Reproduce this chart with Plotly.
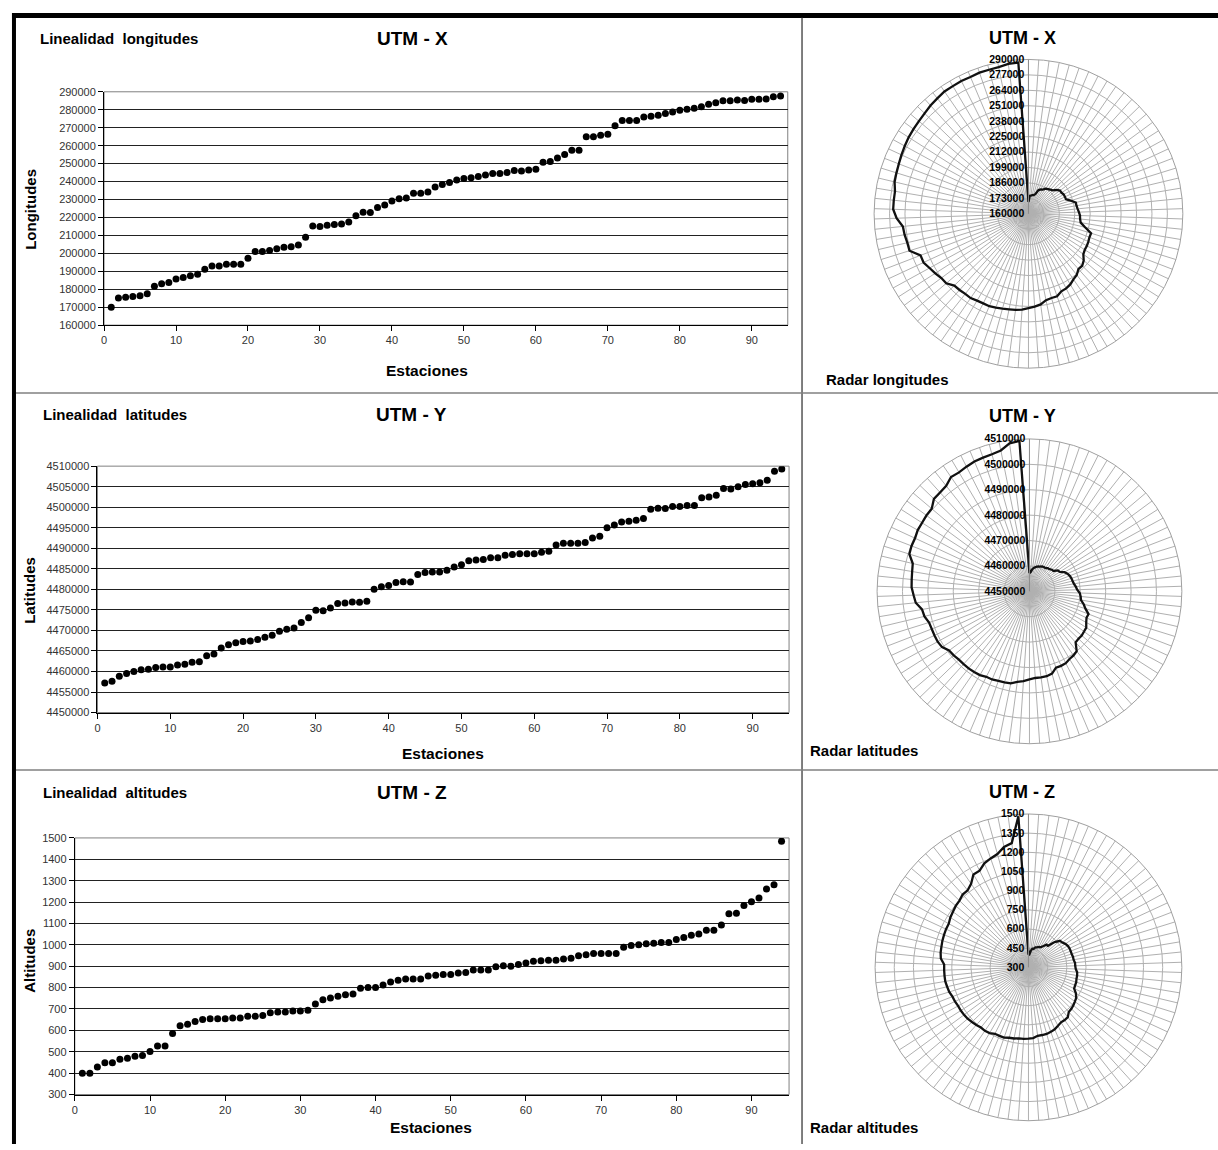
import plotly.graph_objects as go

# ---------------- data ----------------
stations = list(range(1, 95))
station_labels = [str(s) for s in stations]

longitudes = [170000, 175100, 175500, 176000, 176400, 177500, 181700, 183000, 183700, 185700,
              186600, 187500, 188400, 191100, 193000, 193000, 193900, 193900, 193900, 197200,
              201000, 201000, 201600, 202500, 203400, 203700, 204600, 209000, 215200, 215000,
              215600, 216100, 216300, 217400, 220900, 222900, 222700, 225600, 226900, 229100,
              230400, 230900, 233500, 233500, 234200, 237000, 238300, 239400, 240800, 241700,
              242100, 242800, 243700, 244500, 244500, 245000, 246100, 245900, 246500, 246900,
              250700, 251100, 253100, 255000, 257400, 257400, 264900, 264900, 265800, 266300,
              271100, 274000, 274000, 274000, 275900, 276400, 277000, 277900, 278800, 279700,
              280300, 280800, 281700, 283000, 283900, 285000, 285000, 285400, 285200, 285800,
              285800, 286000, 287300, 287700]

latitudes = [4457170, 4457650, 4458860, 4459500, 4460000, 4460400, 4460560, 4460960, 4461100, 4461100,
             4461600, 4461770, 4462250, 4462400, 4463860, 4464250, 4465700, 4466500, 4467000, 4467300,
             4467450, 4467770, 4468330, 4468800, 4469800, 4470260, 4470580, 4471950, 4473070, 4474920,
             4474760, 4475480, 4476530, 4476690, 4476930, 4476850, 4477100, 4480000, 4480640, 4480960,
             4481690, 4481870, 4481800, 4483600, 4484100, 4484200, 4484200, 4484640, 4485450, 4486000,
             4486970, 4487130, 4487290, 4487690, 4487690, 4488330, 4488490, 4488650, 4488650, 4488650,
             4489060, 4489300, 4490820, 4491220, 4491220, 4491220, 4491390, 4492500, 4492900, 4495000,
             4495640, 4496430, 4496600, 4496840, 4497240, 4499500, 4499760, 4499680, 4500160, 4500160,
             4500400, 4500400, 4502330, 4502490, 4502890, 4504580, 4504420, 4504980, 4505540, 4505700,
             4505940, 4506590, 4508760, 4509320]

altitudes = [400, 400, 429, 449, 449, 465, 470, 479, 482, 501,
             527, 527, 585, 622, 629, 642, 651, 654, 654, 654,
             658, 658, 666, 666, 670, 683, 686, 686, 691, 691,
             694, 723, 743, 751, 760, 767, 770, 797, 800, 800,
             812, 826, 834, 840, 840, 840, 854, 858, 861, 861,
             868, 871, 882, 882, 882, 897, 902, 900, 908, 915,
             923, 926, 928, 928, 934, 937, 949, 954, 960, 960,
             960, 960, 989, 997, 1000, 1005, 1008, 1011, 1011, 1025,
             1034, 1045, 1051, 1068, 1068, 1093, 1145, 1148, 1184, 1202,
             1219, 1261, 1281, 1485]

x_ticks = [0, 10, 20, 30, 40, 50, 60, 70, 80, 90]
lon_ticks = [160000 + 10000 * i for i in range(14)]
lat_ticks = [4450000 + 5000 * i for i in range(13)]
alt_ticks = [300 + 100 * i for i in range(13)]
lon_radar_ticks = [160000, 173000, 186000, 199000, 212000, 225000, 238000, 251000, 264000, 277000, 290000]
lat_radar_ticks = [4450000, 4460000, 4470000, 4480000, 4490000, 4500000, 4510000]
alt_radar_ticks = [300, 450, 600, 750, 900, 1050, 1200, 1350, 1500]

# ---------------- layout helpers ----------------
W, H = 1218, 1150
FONT = "Liberation Sans, Arial, sans-serif"


def px(x):
    return x / W


def py(y):
    return 1 - y / H


fig = go.Figure()

panels = [
    dict(vals=longitudes, yt=lon_ticks, rt=lon_radar_ticks, ax="", box=(101.3, 786.7, 86.7, 322.5),
         center=(1028, 210, 156)),
    dict(vals=latitudes, yt=lat_ticks, rt=lat_radar_ticks, ax="2", box=(94.7, 788, 465, 714),
         center=(1029, 591.5, 154)),
    dict(vals=altitudes, yt=alt_ticks, rt=alt_radar_ticks, ax="3", box=(72, 788, 840.7, 1100),
         center=(1028, 971.5, 155)),
]

layout = dict(width=W, height=H, margin=dict(l=0, r=0, t=0, b=0),
              paper_bgcolor="white", plot_bgcolor="white", showlegend=False,
              font=dict(family=FONT, color="black"))
shapes = []

for i, p in enumerate(panels):
    ax = p["ax"]
    x0, x1, y0, y1 = p["box"]
    fig.add_trace(go.Scatter(x=stations, y=p["vals"], mode="markers",
                             marker=dict(color="black", size=7),
                             xaxis="x" + ax, yaxis="y" + ax, hoverinfo="x+y"))
    layout["xaxis" + ax] = dict(domain=[px(x0), px(x1)], range=[0, 95], tickvals=x_ticks,
                                anchor="y" + ax, showgrid=False, zeroline=False,
                                showline=True, linecolor="black", linewidth=1,
                                ticks="outside", ticklen=5, tickcolor="black",
                                tickfont=dict(size=11, color="#333", family=FONT))
    layout["yaxis" + ax] = dict(domain=[py(y1), py(y0)], range=[p["yt"][0], p["yt"][-1]],
                                tickvals=p["yt"], ticktext=[str(v) for v in p["yt"]],
                                anchor="x" + ax, showgrid=True,
                                gridcolor="#222", gridwidth=1, zeroline=False,
                                showline=True, linecolor="black", linewidth=1,
                                ticks="outside", ticklen=5, tickcolor="black",
                                tickfont=dict(size=11, color="#333", family=FONT))
    shapes.append(dict(type="rect", xref="x" + ax + " domain", yref="y" + ax + " domain",
                       x0=0, x1=1, y0=0, y1=1, line=dict(color="#808080", width=1),
                       layer="below"))

    cx, cy, r = p["center"]
    pol = "polar" + ax
    vals = p["vals"]
    fig.add_trace(go.Scatterpolar(r=vals + [vals[0]], theta=station_labels + [station_labels[0]],
                                  mode="lines", line=dict(color="#111", width=2.3),
                                  subplot=pol, hoverinfo="r+theta"))
    rt = p["rt"]
    layout[pol] = dict(
        domain=dict(x=[px(cx - r), px(cx + r)], y=[py(cy + r), py(cy - r)]),
        bgcolor="white",
        radialaxis=dict(range=[rt[0], rt[-1]], tickvals=rt, ticktext=[str(v) for v in rt],
                        angle=90, tickangle=90, side="counterclockwise",
                        showline=True, linecolor="#8c8c8c", linewidth=1,
                        gridcolor="#b0b0b0", gridwidth=1, ticks="",
                        tickfont=dict(size=10.5, color="black", family=FONT, weight="bold")),
        angularaxis=dict(type="category", categoryarray=station_labels, rotation=90,
                         direction="clockwise", showticklabels=False, ticks="",
                         tickmode="linear", tick0=0, dtick=1,
                         gridcolor="#b0b0b0", gridwidth=1,
                         showline=True, linecolor="#a0a0a0", linewidth=1),
    )

# frame lines
shapes += [
    dict(type="line", xref="paper", yref="paper", x0=px(11), x1=px(11), y0=py(7), y1=py(1150),
         line=dict(color="black", width=4)),
    dict(type="line", xref="paper", yref="paper", x0=px(9), x1=px(1218), y0=py(9.5), y1=py(9.5),
         line=dict(color="black", width=5)),
    dict(type="line", xref="paper", yref="paper", x0=px(801), x1=px(801), y0=py(12), y1=py(1150),
         line=dict(color="#555", width=1.5)),
    dict(type="line", xref="paper", yref="paper", x0=px(13), x1=px(1218), y0=py(391), y1=py(391),
         line=dict(color="#808080", width=1.5)),
    dict(type="line", xref="paper", yref="paper", x0=px(13), x1=px(1218), y0=py(772), y1=py(772),
         line=dict(color="#808080", width=1.5)),
]
layout["shapes"] = shapes


def ann(text, x, y, size, xanchor="center", angle=0):
    return dict(text="<b>" + text + "</b>", x=px(x), y=py(y), xref="paper", yref="paper",
                xanchor=xanchor, yanchor="middle", showarrow=False, textangle=angle,
                font=dict(size=size, color="black", family=FONT))


NB = "\u00a0"
layout["annotations"] = [
    ann("Linealidad" + NB + " longitudes", 35, 33, 15, "left"),
    ann("UTM - X", 411, 33, 19),
    ann("Longitudes", 28, 205, 15, angle=-90),
    ann("Estaciones", 425, 368, 15.5),
    ann("UTM - X", 1022, 32, 18),
    ann("Radar longitudes", 823, 377, 15, "left"),

    ann("Linealidad" + NB + " latitudes", 38, 413, 15, "left"),
    ann("UTM - Y", 410, 413, 19),
    ann("Latitudes", 27, 590, 15, angle=-90),
    ann("Estaciones", 441, 755, 15.5),
    ann("UTM - Y", 1022, 414, 18),
    ann("Radar latitudes", 807, 752, 15, "left"),

    ann("Linealidad" + NB + " altitudes", 38, 795, 15, "left"),
    ann("UTM - Z", 410, 795, 19),
    ann("Altitudes", 27, 965, 15, angle=-90),
    ann("Estaciones", 429, 1133, 15.5),
    ann("UTM - Z", 1022, 794, 18),
    ann("Radar altitudes", 807, 1133, 15, "left"),
]

fig.update_layout(**layout)
fig.write_html("out.html", config={"displayModeBar": False},
               post_script="document.body.style.margin='0';document.body.style.padding='0';")
